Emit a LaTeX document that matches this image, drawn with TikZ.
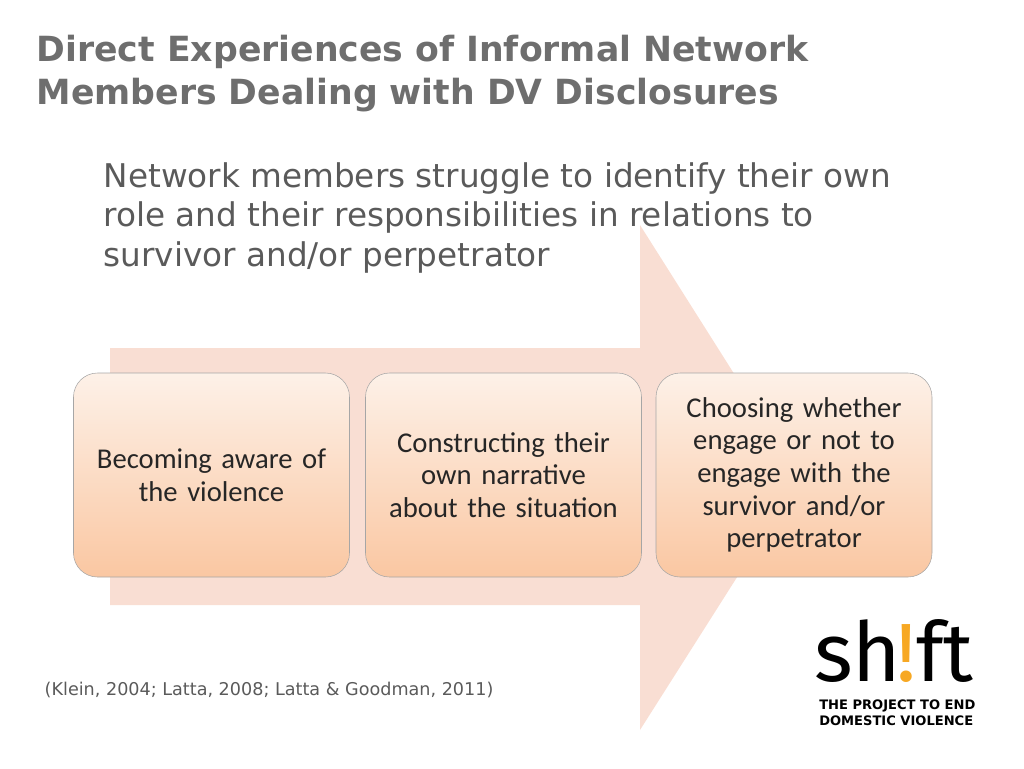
\documentclass[tikz,border=0pt]{standalone}
\usepackage{fontspec}
\setmainfont{DejaVu Sans}
\newfontfamily\boxfont{Carlito}
\newfontfamily\logofont{Fira Sans}
\definecolor{titlegray}{HTML}{6E6E6E}
\definecolor{textgray}{HTML}{5A5A5A}
\definecolor{arrowpeach}{HTML}{F9DED3}
\definecolor{boxtop}{HTML}{FDF1E8}
\definecolor{boxbot}{HTML}{FAC7A2}
\definecolor{shiftorange}{HTML}{F7A823}
\tikzset{stagebox/.style={draw=gray!70,rounded corners=18pt,top color=boxtop,bottom color=boxbot,
  minimum width=207pt,minimum height=153pt,align=center,text width=200pt,
  font=\boxfont\fontsize{21.5}{24.5}\selectfont,text=black!85},
  logopart/.style={anchor=base west,inner sep=0pt,text depth=0pt,font=\logofont\fontsize{62}{62}\selectfont}}
\begin{document}
\begin{tikzpicture}[x=0.75pt,y=-0.75pt]
\useasboundingbox (0,0) rectangle (1024,768);
\node[anchor=north west,align=left,text=titlegray,font=\bfseries\fontsize{26}{32.5}\selectfont] (title) at (32,30)
 {Direct Experiences of Informal Network\\Members Dealing with DV Disclosures};
\fill[arrowpeach] (110,348) -- (640,348) -- (640,225) -- (800,478) -- (640,730) -- (640,605) -- (110,605) -- cycle;
\node[anchor=north west,align=left,text=textgray,font=\fontsize{24.5}{29.5}\selectfont] (intro) at (99,158)
 {Network members struggle to identify their own\\role and their responsibilities in relations to\\survivor and/or perpetrator};
\node[stagebox] (aware) at (211.5,475) {Becoming aware of\\the violence};
\node[stagebox] (narr) at (503.5,475) {Constructing their\\own narrative\\about the situation};
\node[stagebox] (choose) at (794,475) {Choosing whether\\engage or not to\\engage with the\\survivor and/or\\perpetrator};
\node[anchor=west,text=textgray,font=\fontsize{13.2}{15}\selectfont] (cite) at (40,690)
 {(Klein, 2004; Latta, 2008; Latta \& Goodman, 2011)};
% logo
\node[logopart] (sh) at (814,681) {sh};
\node[logopart,text=shiftorange] (bang) at (896,681) {!};
\node[logopart] (ft) at (916,681) {ft};
\node[anchor=north west,inner sep=0pt,align=left,font=\bfseries\fontsize{9.8}{11.5}\selectfont] (tag) at (819,700)
 {THE PROJECT TO END\\DOMESTIC VIOLENCE};
\end{tikzpicture}
\end{document}
